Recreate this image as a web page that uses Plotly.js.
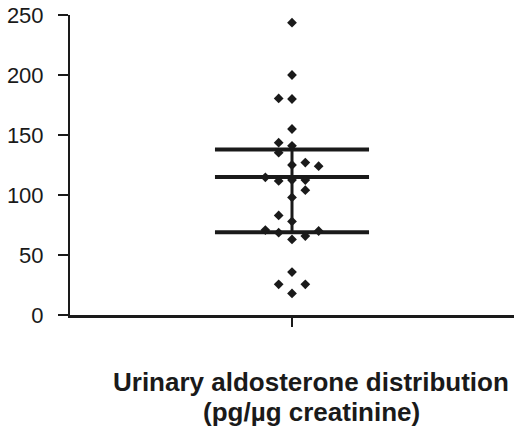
<!DOCTYPE html>
<html>
<head>
<meta charset="utf-8">
<script src="https://cdn.plot.ly/plotly-3.0.1.min.js"></script>
<style>html,body{margin:0;padding:0;background:#fff;}#chart{width:514px;height:435px;}</style>
</head>
<body>
<div id="chart"></div>
<script>
// Urinary aldosterone values (pg/µg creatinine) and their scatter column (-2..2)
const values = [243.6, 200, 180.5, 180, 155, 143.6, 141, 135.3, 125, 127, 124,
  114.7, 111.7, 112.5, 112.5, 104, 98, 83, 78, 70.8, 68.6, 70, 65.8, 63,
  35.8, 25.6, 25.6, 18];
const columns = [0, 0, -1, 0, 0, -1, 0, -1, 0, 1, 2,
  -2, -1, 0, 1, 1, 0, -1, 0, -2, -1, 2, 1, 0,
  0, -1, 1, 0];
// summary lines: upper, middle, lower
const summaryNames = ['upper', 'middle', 'lower'];
const summaryValues = [138, 115, 69];
const yTicks = [0, 50, 100, 150, 200, 250];
const titleLines = ['Urinary aldosterone distribution', '(pg/µg creatinine)'];

const colSpacing = 0.06;
const halfWidth = 0.347;
const ink = '#1a1a1a';

const traces = [];
summaryValues.forEach((v, i) => {
  traces.push({x: [-halfWidth, halfWidth], y: [v, v], mode: 'lines',
    line: {color: ink, width: 4}, hoverinfo: 'skip', name: summaryNames[i]});
});
traces.push({x: [0, 0], y: [Math.min(...summaryValues), Math.max(...summaryValues)], mode: 'lines',
  line: {color: ink, width: 3}, hoverinfo: 'skip'});
traces.push({x: columns.map(c => c * colSpacing), y: values, mode: 'markers',
  marker: {symbol: 'diamond', size: 7.5, color: ink}});

const layout = {
  width: 514, height: 435,
  margin: {l: 70, r: 0, t: 15, b: 120},
  showlegend: false,
  paper_bgcolor: '#fff', plot_bgcolor: '#fff',
  font: {family: 'Liberation Sans, Arial, sans-serif', color: ink},
  xaxis: {range: [-1, 1], showgrid: false, zeroline: false, showline: true,
    linecolor: ink, linewidth: 2.5, ticks: 'outside', ticklen: 9, tickwidth: 2,
    tickcolor: ink, tickvals: [0], ticktext: [''], fixedrange: true},
  yaxis: {range: [0, 250], showgrid: false, zeroline: false, showline: true,
    linecolor: ink, linewidth: 2, ticks: 'outside', ticklen: 10, tickwidth: 2,
    tickcolor: ink, tickvals: yTicks, tickfont: {size: 22, color: ink},
    ticklabelstandoff: 10},
  annotations: [
    {text: '<b>' + titleLines[0] + '</b>', xref: 'paper', yref: 'paper', x: 0.543, y: -0.223,
      xanchor: 'center', yanchor: 'middle', showarrow: false, font: {size: 26, color: ink}},
    {text: '<b>' + titleLines[1] + '</b>', xref: 'paper', yref: 'paper', x: 0.543, y: -0.322,
      xanchor: 'center', yanchor: 'middle', showarrow: false, font: {size: 26, color: ink}}
  ]
};
Plotly.newPlot('chart', traces, layout, {displayModeBar: false, staticPlot: true});
</script>
</body>
</html>
